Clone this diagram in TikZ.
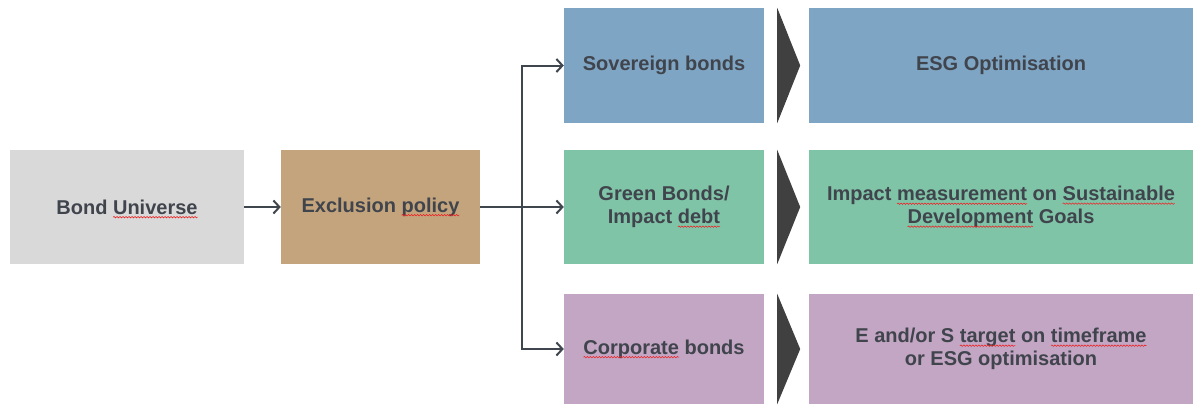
\documentclass[tikz,border=0pt]{standalone}
\usepackage{fontspec}
\setmainfont{Liberation Sans}
\usetikzlibrary{arrows.meta,decorations.pathmorphing}
\definecolor{txt}{RGB}{64,68,76}
\definecolor{cgray}{RGB}{217,217,217}
\definecolor{ctan}{RGB}{196,164,124}
\definecolor{cblue}{RGB}{127,165,196}
\definecolor{cgreen}{RGB}{128,196,168}
\definecolor{cpurple}{RGB}{195,165,196}
\definecolor{cline}{RGB}{64,70,78}
\definecolor{cchev}{RGB}{64,64,64}
\definecolor{csq}{RGB}{232,40,40}
\newcommand{\squig}[1]{\tikz[baseline=(w.base)]{\node[inner sep=0pt,outer sep=0pt,draw=none,fill=none,text=txt,minimum width=0pt,minimum height=0pt](w){#1};\draw[overlay,csq,line width=0.6pt,decorate,decoration={snake,amplitude=0.7pt,segment length=3pt}]([yshift=-3pt]w.base west)--([yshift=-3pt]w.base east);}}
\tikzset{
  box/.style={draw=none,inner sep=2pt,text=txt,align=center,font=\fontsize{20}{23}\selectfont\bfseries},
  arr/.style={draw=cline,line width=2pt,-{Straight Barb[length=6pt,width=13pt,line width=2pt]}},
  ln/.style={draw=cline,line width=2pt},
  chev/.style={fill=cchev,draw=none}
}
\begin{document}
\begin{tikzpicture}[x=1pt,y=-1pt]
\useasboundingbox (0,0) rectangle (1194,405);
\node[box,fill=cgray,minimum width=234pt,minimum height=114pt] (bu) at (127,207) {Bond \squig{Universe}};
\node[box,fill=ctan,minimum width=199pt,minimum height=114pt] (ex) at (380.5,207) {Exclusion \squig{policy}};
\node[box,fill=cblue,minimum width=200pt,minimum height=115pt] (s1) at (664,65.5) {Sovereign bonds};
\node[box,fill=cgreen,minimum width=200pt,minimum height=114pt] (s2) at (664,207) {Green Bonds/\\Impact \squig{debt}};
\node[box,fill=cpurple,minimum width=200pt,minimum height=110pt] (s3) at (664,349) {\squig{Corporate} bonds};
\node[box,fill=cblue,minimum width=384pt,minimum height=115pt] (r1) at (1001,65.5) {ESG Optimisation};
\node[box,fill=cgreen,minimum width=384pt,minimum height=114pt] (r2) at (1001,207) {Impact \squig{measurement} on \squig{Sustainable}\\\squig{Development} Goals};
\node[box,fill=cpurple,minimum width=384pt,minimum height=110pt] (r3) at (1001,349) {E and/or S \squig{target} on \squig{timeframe}\\or ESG optimisation};
\coordinate (j) at (522,207);
\draw[arr] (bu.east) -- (ex.west);
\draw[ln] (ex.east) -- (j);
\draw[arr] (j) |- (s1.west);
\draw[arr] (j) -- (s2.west);
\draw[arr] (j) |- (s3.west);
\foreach \n in {s1,s2,s3}{
  \fill[chev] ([xshift=13pt]\n.north east) -- ([xshift=36pt]\n.east) -- ([xshift=13pt]\n.south east) -- cycle;
}
\end{tikzpicture}
\end{document}
